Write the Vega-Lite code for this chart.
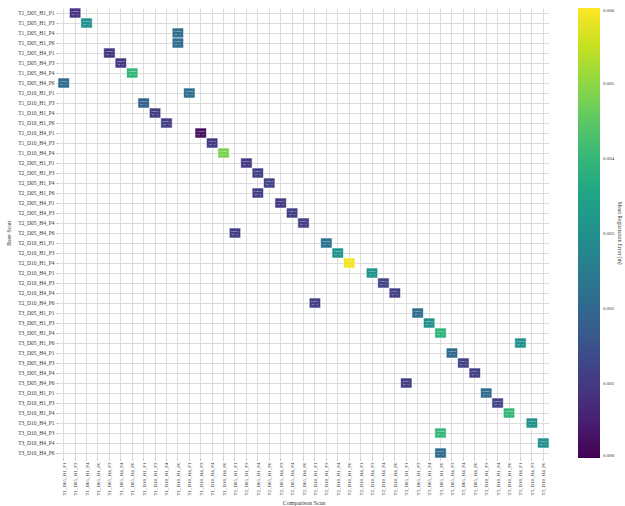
{
  "$schema": "https://vega.github.io/schema/vega-lite/v6.json",
  "autosize": {"type": "none"},
  "padding": {"left": 58, "top": 8, "right": 76, "bottom": 48},
  "width": 491,
  "height": 450,
  "background": "white",
  "config": {
    "font": "Liberation Serif",
    "view": {"stroke": null},
    "axis": {"labelFont": "Liberation Serif", "titleFont": "Liberation Serif", "labelColor": "#333", "titleColor": "#333", "titleFontWeight": "normal", "zindex": 0},
    "legend": {"labelFont": "Liberation Serif", "titleFont": "Liberation Serif"}
  },
  "data": {"values": [
    {"base": "T1_D05_H1_P1", "comp": "T1_D05_H1_P3", "err": 0.0009, "n": "(n=1)"},
    {"base": "T1_D05_H1_P3", "comp": "T1_D05_H1_P4", "err": 0.0030, "n": "(n=1)"},
    {"base": "T1_D05_H1_P4", "comp": "T1_D10_H1_P6", "err": 0.0021, "n": "(n=1)"},
    {"base": "T1_D05_H1_P6", "comp": "T1_D10_H1_P6", "err": 0.0021, "n": "(n=1)"},
    {"base": "T1_D05_H4_P1", "comp": "T1_D05_H4_P3", "err": 0.0009, "n": "(n=1)"},
    {"base": "T1_D05_H4_P3", "comp": "T1_D05_H4_P4", "err": 0.0010, "n": "(n=1)"},
    {"base": "T1_D05_H4_P4", "comp": "T1_D05_H4_P6", "err": 0.0040, "n": "(n=1)"},
    {"base": "T1_D05_H4_P6", "comp": "T1_D05_H1_P1", "err": 0.0021, "n": "(n=1)"},
    {"base": "T1_D10_H1_P1", "comp": "T1_D10_H4_P1", "err": 0.0022, "n": "(n=1)"},
    {"base": "T1_D10_H1_P3", "comp": "T1_D10_H1_P1", "err": 0.0018, "n": "(n=1)"},
    {"base": "T1_D10_H1_P4", "comp": "T1_D10_H1_P3", "err": 0.0011, "n": "(n=1)"},
    {"base": "T1_D10_H1_P6", "comp": "T1_D10_H1_P4", "err": 0.0011, "n": "(n=1)"},
    {"base": "T1_D10_H4_P1", "comp": "T1_D10_H4_P3", "err": 0.0002, "n": "(n=1)"},
    {"base": "T1_D10_H4_P3", "comp": "T1_D10_H4_P4", "err": 0.0010, "n": "(n=1)"},
    {"base": "T1_D10_H4_P4", "comp": "T1_D10_H4_P6", "err": 0.0048, "n": "(n=1)"},
    {"base": "T2_D05_H1_P1", "comp": "T2_D05_H1_P3", "err": 0.0010, "n": "(n=1)"},
    {"base": "T2_D05_H1_P3", "comp": "T2_D05_H1_P4", "err": 0.0011, "n": "(n=1)"},
    {"base": "T2_D05_H1_P4", "comp": "T2_D05_H1_P6", "err": 0.0012, "n": "(n=1)"},
    {"base": "T2_D05_H1_P6", "comp": "T2_D05_H1_P4", "err": 0.0011, "n": "(n=1)"},
    {"base": "T2_D05_H4_P1", "comp": "T2_D05_H4_P3", "err": 0.0010, "n": "(n=1)"},
    {"base": "T2_D05_H4_P3", "comp": "T2_D05_H4_P4", "err": 0.0011, "n": "(n=1)"},
    {"base": "T2_D05_H4_P4", "comp": "T2_D05_H4_P6", "err": 0.0011, "n": "(n=1)"},
    {"base": "T2_D05_H4_P6", "comp": "T2_D05_H1_P1", "err": 0.0011, "n": "(n=1)"},
    {"base": "T2_D10_H1_P1", "comp": "T2_D10_H1_P3", "err": 0.0022, "n": "(n=1)"},
    {"base": "T2_D10_H1_P3", "comp": "T2_D10_H1_P4", "err": 0.0030, "n": "(n=1)"},
    {"base": "T2_D10_H1_P4", "comp": "T2_D10_H1_P6", "err": 0.0059, "n": "(n=1)"},
    {"base": "T2_D10_H4_P1", "comp": "T2_D10_H4_P3", "err": 0.0031, "n": "(n=1)"},
    {"base": "T2_D10_H4_P3", "comp": "T2_D10_H4_P4", "err": 0.0012, "n": "(n=1)"},
    {"base": "T2_D10_H4_P4", "comp": "T2_D10_H4_P6", "err": 0.0011, "n": "(n=1)"},
    {"base": "T2_D10_H4_P6", "comp": "T2_D10_H1_P1", "err": 0.0011, "n": "(n=1)"},
    {"base": "T3_D05_H1_P1", "comp": "T3_D05_H1_P3", "err": 0.0021, "n": "(n=1)"},
    {"base": "T3_D05_H1_P3", "comp": "T3_D05_H1_P4", "err": 0.0030, "n": "(n=1)"},
    {"base": "T3_D05_H1_P4", "comp": "T3_D05_H1_P6", "err": 0.0039, "n": "(n=1)"},
    {"base": "T3_D05_H1_P6", "comp": "T3_D10_H4_P1", "err": 0.0030, "n": "(n=1)"},
    {"base": "T3_D05_H4_P1", "comp": "T3_D05_H4_P3", "err": 0.0020, "n": "(n=1)"},
    {"base": "T3_D05_H4_P3", "comp": "T3_D05_H4_P4", "err": 0.0011, "n": "(n=1)"},
    {"base": "T3_D05_H4_P4", "comp": "T3_D05_H4_P6", "err": 0.0011, "n": "(n=1)"},
    {"base": "T3_D05_H4_P6", "comp": "T3_D05_H1_P1", "err": 0.0011, "n": "(n=1)"},
    {"base": "T3_D10_H1_P1", "comp": "T3_D10_H1_P3", "err": 0.0021, "n": "(n=1)"},
    {"base": "T3_D10_H1_P3", "comp": "T3_D10_H1_P4", "err": 0.0012, "n": "(n=1)"},
    {"base": "T3_D10_H1_P4", "comp": "T3_D10_H1_P6", "err": 0.0040, "n": "(n=1)"},
    {"base": "T3_D10_H4_P1", "comp": "T3_D10_H4_P3", "err": 0.0030, "n": "(n=1)"},
    {"base": "T3_D10_H4_P3", "comp": "T3_D05_H1_P6", "err": 0.0040, "n": "(n=1)"},
    {"base": "T3_D10_H4_P4", "comp": "T3_D10_H4_P6", "err": 0.0030, "n": "(n=1)"},
    {"base": "T3_D10_H4_P6", "comp": "T3_D05_H1_P6", "err": 0.0021, "n": "(n=1)"}
  ]},
  "encoding": {
    "x": {
      "field": "comp", "type": "nominal", "title": "Comparison Scan",
      "scale": {"domain": ["T1_D05_H1_P1","T1_D05_H1_P3","T1_D05_H1_P4","T1_D05_H1_P6","T1_D05_H4_P3","T1_D05_H4_P4","T1_D05_H4_P6","T1_D10_H1_P1","T1_D10_H1_P3","T1_D10_H1_P4","T1_D10_H1_P6","T1_D10_H4_P1","T1_D10_H4_P3","T1_D10_H4_P4","T1_D10_H4_P6","T2_D05_H1_P1","T2_D05_H1_P3","T2_D05_H1_P4","T2_D05_H1_P6","T2_D05_H4_P3","T2_D05_H4_P4","T2_D05_H4_P6","T2_D10_H1_P1","T2_D10_H1_P3","T2_D10_H1_P4","T2_D10_H1_P6","T2_D10_H4_P1","T2_D10_H4_P3","T2_D10_H4_P4","T2_D10_H4_P6","T3_D05_H1_P1","T3_D05_H1_P3","T3_D05_H1_P4","T3_D05_H1_P6","T3_D05_H4_P3","T3_D05_H4_P4","T3_D05_H4_P6","T3_D10_H1_P3","T3_D10_H1_P4","T3_D10_H1_P6","T3_D10_H4_P1","T3_D10_H4_P3","T3_D10_H4_P6"], "paddingInner": 0, "paddingOuter": 0},
      "axis": {"labelAngle": 270, "labelFontSize": 5, "titleFontSize": 6, "domain": false, "grid": true, "gridColor": "#dcdcdc", "gridWidth": 1, "tickColor": "#bbb", "tickSize": 2, "labelPadding": 2, "titlePadding": 4, "zindex": 0}
    },
    "y": {
      "field": "base", "type": "nominal", "title": "Base Scan",
      "scale": {"domain": ["T1_D05_H1_P1","T1_D05_H1_P3","T1_D05_H1_P4","T1_D05_H1_P6","T1_D05_H4_P1","T1_D05_H4_P3","T1_D05_H4_P4","T1_D05_H4_P6","T1_D10_H1_P1","T1_D10_H1_P3","T1_D10_H1_P4","T1_D10_H1_P6","T1_D10_H4_P1","T1_D10_H4_P3","T1_D10_H4_P4","T2_D05_H1_P1","T2_D05_H1_P3","T2_D05_H1_P4","T2_D05_H1_P6","T2_D05_H4_P1","T2_D05_H4_P3","T2_D05_H4_P4","T2_D05_H4_P6","T2_D10_H1_P1","T2_D10_H1_P3","T2_D10_H1_P4","T2_D10_H4_P1","T2_D10_H4_P3","T2_D10_H4_P4","T2_D10_H4_P6","T3_D05_H1_P1","T3_D05_H1_P3","T3_D05_H1_P4","T3_D05_H1_P6","T3_D05_H4_P1","T3_D05_H4_P3","T3_D05_H4_P4","T3_D05_H4_P6","T3_D10_H1_P1","T3_D10_H1_P3","T3_D10_H1_P4","T3_D10_H4_P1","T3_D10_H4_P3","T3_D10_H4_P4","T3_D10_H4_P6"], "paddingInner": 0, "paddingOuter": 0},
      "axis": {"labelFontSize": 5.5, "titleFontSize": 6, "domain": false, "grid": true, "gridColor": "#dcdcdc", "gridWidth": 1, "tickColor": "#bbb", "tickSize": 2, "labelPadding": 2, "titlePadding": 6, "zindex": 0}
    }
  },
  "layer": [
    {
      "mark": {"type": "rect", "stroke": "white", "strokeWidth": 1, "strokeOpacity": 0.6},
      "encoding": {
        "color": {
          "field": "err", "type": "quantitative", "title": "Mean Registration Error (m)",
          "scale": {"scheme": "viridis", "domain": [0, 0.006]},
          "legend": {"orient": "none", "legendX": 520, "legendY": 0, "direction": "vertical", "gradientLength": 450, "gradientThickness": 22, "values": [0, 0.001, 0.002, 0.003, 0.004, 0.005, 0.006], "format": ".3f", "labelFontSize": 5, "labelColor": "#333", "labelOffset": 3, "titleOrient": "right", "titleAngle": 270, "titleFontSize": 5.5, "titleFontWeight": "normal", "titleColor": "#333", "titleAnchor": "middle", "titlePadding": 3, "tickCount": 7}
        }
      }
    },
    {
      "mark": {"type": "text", "fontSize": 2.8, "color": "white", "opacity": 0.8, "dy": -1.7},
      "encoding": {"text": {"field": "err", "type": "quantitative", "format": ".4f"}}
    },
    {
      "mark": {"type": "text", "fontSize": 2.8, "color": "white", "opacity": 0.8, "dy": 1.7},
      "encoding": {"text": {"field": "n", "type": "nominal"}}
    }
  ]
}
